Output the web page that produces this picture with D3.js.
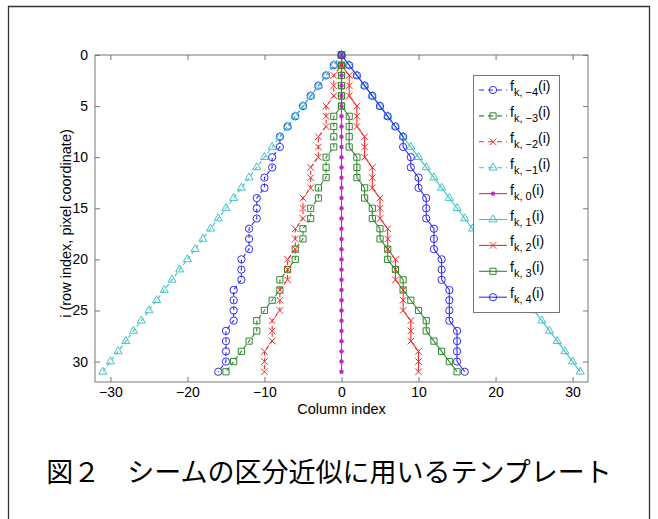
<!DOCTYPE html>
<html>
<head>
<meta charset="utf-8">
<script src="https://cdn.jsdelivr.net/npm/d3@7"></script>
<style>
  body { margin: 0; background: #fff; }
  svg text { font-family: "Liberation Sans", Arial, Helvetica, sans-serif; fill: #000; }
</style>
</head>
<body>
<div id="chart"></div>
<script>
// row index i (y axis)
const rows = [0,1,2,3,4,5,6,7,8,9,10,11,12,13,14,15,16,17,18,19,20,21,22,23,24,25,26,27,28,29,30,31]

// column offsets of each template
const fkM4 = [0,-1,-2,-3,-4,-5,-6,-7,-8,-8,-9,-9,-10,-10,-11,-11,-11,-12,-12,-12,-13,-13,-13,-14,-14,-14,-14,-15,-15,-15,-15,-16]
const fkM3 = [0,0,0,0,0,0,-1,-1,-1,-1,-2,-2,-2,-3,-3,-4,-4,-5,-5,-6,-6,-7,-8,-8,-9,-10,-11,-11,-12,-13,-14,-15]
const fkM2 = [0,0,-1,-1,-1,-2,-2,-2,-3,-3,-3,-4,-4,-4,-5,-5,-5,-6,-6,-6,-7,-7,-7,-8,-8,-8,-9,-9,-9,-10,-10,-10]
const fkM1 = [0,-1,-2,-3,-4,-5,-6,-7,-8,-9,-10,-11,-12,-13,-14,-15,-16,-17,-18,-19,-20,-21,-22,-23,-24,-25,-26,-27,-28,-29,-30,-31]
const fk0  = [0,0,0,0,0,0,0,0,0,0,0,0,0,0,0,0,0,0,0,0,0,0,0,0,0,0,0,0,0,0,0,0]
const fk1  = [0,1,2,3,4,5,6,7,8,9,10,11,12,13,14,15,16,17,18,19,20,21,22,23,24,25,26,27,28,29,30,31]
const fk2  = [0,0,1,1,1,2,2,2,3,3,3,4,4,4,5,5,5,6,6,6,7,7,7,8,8,8,9,9,9,10,10,10]
const fk3  = [0,0,0,0,0,0,1,1,1,1,2,2,2,3,3,4,4,5,5,6,6,7,8,8,9,10,11,11,12,13,14,15]
const fk4  = [0,1,2,3,4,5,6,7,8,8,9,9,10,10,11,11,11,12,12,12,13,13,13,14,14,14,14,15,15,15,15,16]

const seriesLabels = ["−4", "−3", "−2", "−1", "0", "1", "2", "3", "4"]
const xTicks = [-30, -20, -10, 0, 10, 20, 30]
const yTicks = [0, 5, 10, 15, 20, 25, 30]

const width = 658
const height = 519

// MATLAB style: colour, marker, dashed for negative k
const styles = [
  { color: "#2f2ff5", marker: "circle",   dash: true },
  { color: "#2e8a2e", marker: "square",   dash: true },
  { color: "#f52a2a", marker: "x",        dash: true },
  { color: "#3fc4c4", marker: "triangle", dash: true },
  { color: "#cc22cc", marker: "dot",      dash: false },
  { color: "#3fc4c4", marker: "triangle", dash: false },
  { color: "#f52a2a", marker: "x",        dash: false },
  { color: "#2e8a2e", marker: "square",   dash: false },
  { color: "#2f2ff5", marker: "circle",   dash: false }
]
const seriesData = [fkM4, fkM3, fkM2, fkM1, fk0, fk1, fk2, fk3, fk4]

const svg = d3.select("#chart")
  .append("svg")
  .attr("width", width)
  .attr("height", height)

// outer frame of the figure
svg.append("path")
  .attr("d", "M8.5,530 V6.5 H649.5 V530")
  .attr("fill", "none")
  .attr("stroke", "#333")
  .attr("stroke-width", 1.3)

const plot = { left: 95, right: 588, top: 55, bottom: 382 }

const x = d3.scaleLinear().domain([-32, 32]).range([plot.left, plot.right])
const y = d3.scaleLinear().domain([0, 32]).range([plot.top, plot.bottom])

// axes: ticks pointing inward, box on
const axisColor = "#777"
const gx = svg.append("g").attr("transform", `translate(0,${plot.bottom})`)
  .call(d3.axisBottom(x).tickValues(xTicks).tickSizeInner(-5).tickSizeOuter(0).tickPadding(5)
    .tickFormat(d => d < 0 ? "−" + Math.abs(d) : d))
const gxTop = svg.append("g").attr("transform", `translate(0,${plot.top})`)
  .call(d3.axisTop(x).tickValues(xTicks).tickSizeInner(-5).tickSizeOuter(0).tickFormat(""))
const gy = svg.append("g").attr("transform", `translate(${plot.left},0)`)
  .call(d3.axisLeft(y).tickValues(yTicks).tickSizeInner(-5).tickSizeOuter(0).tickPadding(7))
const gyRight = svg.append("g").attr("transform", `translate(${plot.right},0)`)
  .call(d3.axisRight(y).tickValues(yTicks).tickSizeInner(-5).tickSizeOuter(0).tickFormat(""))

;[gx, gxTop, gy, gyRight].forEach(g => {
  g.select(".domain").remove()
  g.selectAll(".tick line").attr("stroke", axisColor)
  g.selectAll(".tick text").attr("font-size", 14).attr("font-family", "Liberation Sans, Arial, sans-serif").attr("fill", "#000")
})

svg.append("rect")
  .attr("x", plot.left).attr("y", plot.top)
  .attr("width", plot.right - plot.left).attr("height", plot.bottom - plot.top)
  .attr("fill", "none").attr("stroke", axisColor).attr("stroke-width", 1)

svg.append("text")
  .attr("x", x(0)).attr("y", 414)
  .attr("text-anchor", "middle")
  .attr("font-size", 14.5)
  .text("Column index")

svg.append("text")
  .attr("transform", `translate(71,${(plot.top + plot.bottom) / 2 + 5}) rotate(-90)`)
  .attr("text-anchor", "middle")
  .attr("font-size", 14.5)
  .text("i (row index, pixel coordinate)")

function drawMarker(g, type, color, cx, cy) {
  if (type === "dot") {
    g.append("circle").attr("cx", cx).attr("cy", cy).attr("r", 2.2).attr("fill", color)
    return
  }
  const shapes = { circle: [d3.symbolCircle, 42], square: [d3.symbolSquare, 38], x: [d3.symbolTimes, 30], triangle: [d3.symbolTriangle, 28] }
  const [sym, size] = shapes[type]
  g.append("path")
    .attr("d", d3.symbol().type(sym).size(size)())
    .attr("transform", `translate(${cx},${cy})`)
    .attr("fill", "none")
    .attr("stroke", color)
    .attr("stroke-width", 1)
}

const line = d3.line()
  .x(d => x(d[0]))
  .y(d => y(d[1]))

seriesData.forEach((vals, k) => {
  const st = styles[k]
  const pts = vals.map((v, i) => [v, rows[i]])
  const g = svg.append("g")
  g.append("path")
    .datum(pts)
    .attr("d", line)
    .attr("fill", "none")
    .attr("stroke", st.color)
    .attr("stroke-width", 1.1)
    .attr("stroke-dasharray", st.dash ? "4,3" : null)
  pts.forEach(p => drawMarker(g, st.marker, st.color, x(p[0]), y(p[1])))
})

// legend
const legend = svg.append("g").attr("transform", "translate(473,75)")
legend.append("rect")
  .attr("x", 0.5).attr("y", 0.5)
  .attr("width", 86).attr("height", 237)
  .attr("fill", "#fff")
  .attr("stroke", axisColor)

seriesLabels.forEach((lab, k) => {
  const st = styles[k]
  const ly = 15 + k * 25.9
  const row = legend.append("g").attr("transform", `translate(0,${ly})`)
  row.append("line")
    .attr("x1", 6).attr("x2", 34).attr("y1", 0).attr("y2", 0)
    .attr("stroke", st.color).attr("stroke-width", 1.1)
    .attr("stroke-dasharray", st.dash ? "5,4" : null)
  drawMarker(row, st.marker, st.color, 20, 0)
  const t = row.append("text").attr("x", 37).attr("y", 1).attr("font-size", 14)
  t.append("tspan").text("f")
  t.append("tspan").attr("font-size", 11).attr("dy", 5).text("k, " + lab)
  t.append("tspan").attr("dy", -5).text("(i)")
})

// caption
svg.append("text")
  .attr("x", 329).attr("y", 482)
  .attr("text-anchor", "middle")
  .attr("font-size", 27)
  .style("font-family", "'Noto Sans CJK JP', sans-serif")
  .text("図２　シームの区分近似に用いるテンプレート")
</script>
</body>
</html>
